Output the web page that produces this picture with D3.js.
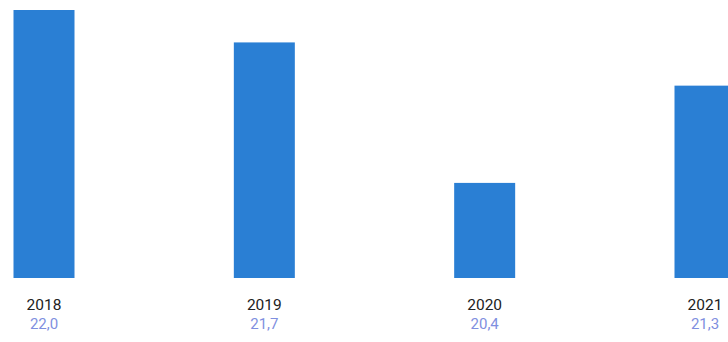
<!DOCTYPE html>
<html>
<head>
<meta charset="utf-8">
<script src="https://cdn.jsdelivr.net/npm/d3@7"></script>
<style>
  html, body { margin: 0; padding: 0; background: #ffffff; }
  svg { display: block; }
</style>
</head>
<body>
<svg id="chart" width="728" height="342"></svg>
<script>
const years = ["2018", "2019", "2020", "2021"];
const values = [22.0, 21.7, 20.4, 21.3];
const valueLabels = ["22,0", "21,7", "20,4", "21,3"];

const svg = d3.select("#chart");
const x = d3.scalePoint().domain(years).range([44, 705]);
const y = d3.scaleLinear().domain([19.52, 22.0]).range([278, 10]);
const barW = 61;

svg.selectAll("rect.bar")
  .data(years)
  .enter().append("rect")
  .attr("class", "bar")
  .attr("x", d => x(d) - barW / 2)
  .attr("width", barW)
  .attr("y", (d, i) => y(values[i]))
  .attr("height", (d, i) => y.range()[0] - y(values[i]))
  .attr("fill", "#2a7fd4");

svg.selectAll("text.year")
  .data(years)
  .enter().append("text")
  .attr("class", "year")
  .attr("x", d => x(d))
  .attr("y", 310)
  .attr("text-anchor", "middle")
  .attr("font-family", "Roboto, sans-serif")
  .attr("font-size", 15.5)
  .attr("fill", "#222222")
  .text(d => d);

svg.selectAll("text.val")
  .data(years)
  .enter().append("text")
  .attr("class", "val")
  .attr("x", d => x(d))
  .attr("y", 329)
  .attr("text-anchor", "middle")
  .attr("font-family", "Roboto, sans-serif")
  .attr("font-size", 15)
  .attr("fill", "#7f8fe0")
  .text((d, i) => valueLabels[i]);
</script>
</body>
</html>
